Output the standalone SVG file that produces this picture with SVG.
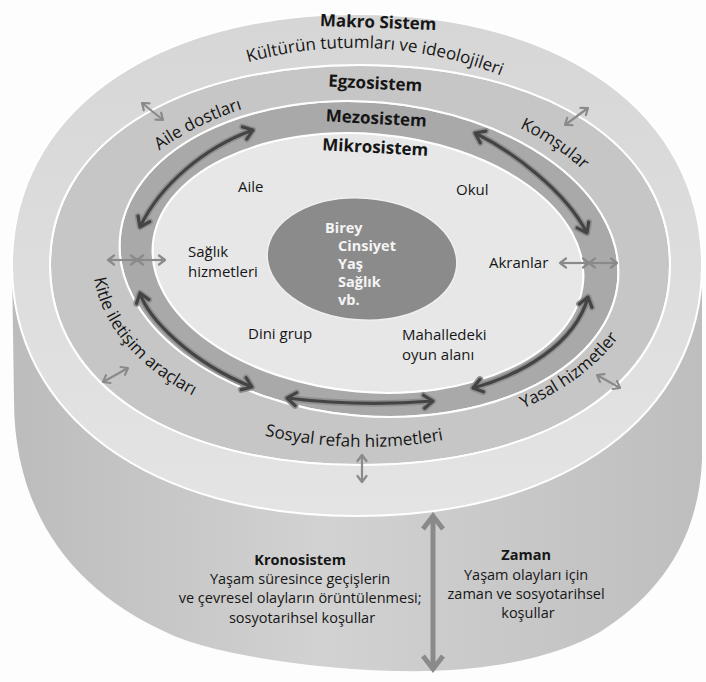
<svg xmlns="http://www.w3.org/2000/svg" width="706" height="682" viewBox="0 0 706 682">
  <style>
    .t{font-family:"Open Sans","Noto Sans","DejaVu Sans",sans-serif;fill:#161616}
    .b{font-weight:bold}
    .lab{font-size:15px}
    .arc{font-size:17px}
    .head{font-size:17px;font-weight:bold}
    .krono{font-size:14.5px}
    .core{font-size:14.5px;font-weight:bold;fill:#f4f4f4}
    .sep{stroke:#ffffff;stroke-width:2;fill-rule:evenodd}
    .halo{fill:none;stroke:#8e8e8e;stroke-width:6.5;marker-start:url(#mh);marker-end:url(#mh)}
    .bold{fill:none;stroke:#444444;stroke-width:3.2;marker-start:url(#mc);marker-end:url(#mc)}
    .thin{fill:none;stroke:#8a8a8a;stroke-width:2.2;marker-start:url(#ms);marker-end:url(#ms)}
    .time{fill:none;stroke:#8a8a8a;stroke-width:5;marker-start:url(#mb);marker-end:url(#mb)}
  </style>
  <defs>
    <linearGradient id="gBody" x1="0" y1="0" x2="1" y2="0">
      <stop offset="0" stop-color="#bcbcbc"/>
      <stop offset="0.45" stop-color="#d2d2d2"/>
      <stop offset="1" stop-color="#bebebe"/>
    </linearGradient>
    <linearGradient id="gTop" x1="0" y1="0" x2="0" y2="1">
      <stop offset="0" stop-color="#d6d6d6"/>
      <stop offset="1" stop-color="#e4e4e4"/>
    </linearGradient>
    <marker id="mh" viewBox="0 0 18 16" refX="13" refY="8" markerWidth="18" markerHeight="16" markerUnits="userSpaceOnUse" orient="auto-start-reverse" overflow="visible">
      <path d="M4,1.5 L13,8 L4,14.5" fill="none" stroke="#8e8e8e" stroke-width="6.5" stroke-linecap="round" stroke-linejoin="round"/>
    </marker>
    <marker id="mc" viewBox="0 0 18 16" refX="13" refY="8" markerWidth="18" markerHeight="16" markerUnits="userSpaceOnUse" orient="auto-start-reverse" overflow="visible">
      <path d="M4,1.5 L13,8 L4,14.5" fill="none" stroke="#444444" stroke-width="3.2" stroke-linecap="round" stroke-linejoin="round"/>
    </marker>
    <marker id="ms" viewBox="0 0 12 12" refX="10" refY="6" markerWidth="12" markerHeight="12" markerUnits="userSpaceOnUse" orient="auto-start-reverse" overflow="visible">
      <path d="M4,1.5 L10,6 L4,10.5" fill="none" stroke="#8a8a8a" stroke-width="2.2" stroke-linecap="round" stroke-linejoin="round"/>
    </marker>
    <marker id="mb" viewBox="0 0 26 26" refX="22" refY="13" markerWidth="26" markerHeight="26" markerUnits="userSpaceOnUse" orient="auto-start-reverse" overflow="visible">
      <path d="M9,3 L22,13 L9,23" fill="none" stroke="#8a8a8a" stroke-width="5" stroke-linejoin="miter"/>
    </marker>
    <!-- baselines for the curved ring labels -->
    <path id="tpKultur" d="M86.4,178.2 A300 220 3 0 1 649.4,207.7"/>
    <path id="tpAile" d="M117.9,192.2 A270.5 171.6 0 0 1 299.6,95.5"/>
    <path id="tpKomsu" d="M450.2,105 A261.6 166 0 0 1 621.8,230.3"/>
    <path id="tpKitle" d="M96.3,235 A272 172.6 0 0 0 233.1,413"/>
    <path id="tpYasal" d="M451.5,430.9 A280 177.6 0 0 0 644.8,268.2"/>
    <path id="tpSosyal" d="M179.2,403.7 A289 185 0 0 0 530.8,413.5"/>
    <!-- mesosystem interaction arcs -->
    <path id="m1" d="M253,130 C205,147 160,185 140,227"/>
    <path id="m2" d="M475,133 C510,150 565,190 587,233"/>
    <path id="m3" d="M140,293 C148,318 190,362 252,387"/>
    <path id="m4" d="M287,398 Q360,407 433,401"/>
    <path id="m5" d="M473,388 C520,375 575,345 588,297"/>
  </defs>

  <rect width="706" height="682" fill="#fdfdfd"/>

  <!-- cylinder body: chronosystem -->
  <g id="kronosistem">
    <path d="M12,265 L14,400 C14,510 70,590 170,634 C215,655 330,673 430,671 C500,669 560,655 600,632 C650,600 698,550 702,460 L702,265 Z" fill="url(#gBody)"/>
    <text class="t krono" text-anchor="middle">
      <tspan class="b" x="302" y="565">Kronosistem</tspan>
      <tspan x="302" y="584">Yaşam süresince geçişlerin</tspan>
      <tspan x="302" y="603">ve çevresel olayların örüntülenmesi;</tspan>
      <tspan x="302" y="623">sosyotarihsel koşullar</tspan>
    </text>
  </g>

  <g id="zaman">
    <text class="t krono" text-anchor="middle">
      <tspan class="b" x="528" y="560">Zaman</tspan>
      <tspan x="528" y="580">Yaşam olayları için</tspan>
      <tspan x="528" y="599">zaman ve sosyotarihsel</tspan>
      <tspan x="528" y="618">koşullar</tspan>
    </text>
  </g>

  <!-- microsystem -->
  <g id="mikrosistem">
    <path class="sep" fill="#e7e7e7" d="M152.82,244.17 A216 129 5 1 1 583.18,281.83 A216 129 5 1 1 152.82,244.17 Z"/>
    <text class="t head" x="375" y="153" text-anchor="middle" transform="rotate(3 375 153)">Mikrosistem</text>
    <text class="t lab" x="238" y="192">Aile</text>
    <text class="t lab" x="456" y="195">Okul</text>
    <text class="t lab"><tspan x="188" y="257">Sağlık</tspan><tspan x="188" y="277">hizmetleri</tspan></text>
    <text class="t lab" x="489" y="268">Akranlar</text>
    <text class="t lab" x="248" y="339">Dini grup</text>
    <text class="t lab"><tspan x="402" y="340">Mahalledeki</tspan><tspan x="402" y="360">oyun alanı</tspan></text>
  </g>

  <!-- the individual -->
  <g id="birey">
    <ellipse cx="0" cy="0" rx="95" ry="61" fill="#8b8b8b" stroke="#f0f0f0" stroke-width="1.5" transform="translate(362 259) rotate(4)"/>
    <text class="t core">
      <tspan x="325" y="233">Birey</tspan>
      <tspan x="338" y="251">Cinsiyet</tspan>
      <tspan x="338" y="269">Yaş</tspan>
      <tspan x="338" y="287">Sağlık</tspan>
      <tspan x="338" y="305">vb.</tspan>
    </text>
  </g>

  <!-- mesosystem ring -->
  <g id="mezosistem">
    <path class="sep" fill="#a9a9a9" d="M119.95,237.21 A250 157 5 1 1 618.05,280.79 A250 157 5 1 1 119.95,237.21 Z M152.82,244.17 A216 129 5 1 1 583.18,281.83 A216 129 5 1 1 152.82,244.17 Z"/>
    <text class="t head" x="376" y="124" text-anchor="middle" transform="rotate(3 376 124)">Mezosistem</text>
  </g>

  <!-- exosystem ring -->
  <g id="egzosistem">
    <path class="sep" fill="#c6c6c6" d="M50,265 C50,145 174,65 360,65 C546,65 670,145 670,265 C670,385 546,465 360,465 C174,465 50,385 50,265 Z M119.95,237.21 A250 157 5 1 1 618.05,280.79 A250 157 5 1 1 119.95,237.21 Z"/>
    <text class="t head" x="375" y="89" text-anchor="middle" transform="rotate(3 375 89)">Egzosistem</text>
    <text class="t arc"><textPath href="#tpAile" startOffset="50%" text-anchor="middle">Aile dostları</textPath></text>
    <text class="t arc"><textPath href="#tpKomsu" startOffset="50%" text-anchor="middle">Komşular</textPath></text>
    <text class="t arc"><textPath href="#tpKitle" startOffset="50%" text-anchor="middle">Kitle iletişim araçları</textPath></text>
    <text class="t arc"><textPath href="#tpYasal" startOffset="50%" text-anchor="middle">Yasal hizmetler</textPath></text>
    <text class="t arc"><textPath href="#tpSosyal" startOffset="50%" text-anchor="middle">Sosyal refah hizmetleri</textPath></text>
  </g>

  <!-- top face: macrosystem -->
  <g id="makrosistem">
    <path class="sep" fill="url(#gTop)" d="M12,265 C12,114.4 150,14 357,14 C564,14 702,114.4 702,265 C702,415.6 564,516 357,516 C150,516 12,415.6 12,265 Z M50,265 C50,145 174,65 360,65 C546,65 670,145 670,265 C670,385 546,465 360,465 C174,465 50,385 50,265 Z"/>
    <text class="t head" x="378" y="28" text-anchor="middle" transform="rotate(2 378 28)">Makro Sistem</text>
    <text class="t arc"><textPath href="#tpKultur" startOffset="50%" text-anchor="middle">Kültürün tutumları ve ideolojileri</textPath></text>
  </g>

  <!-- interaction arrows -->
  <g id="connectors">
    <use href="#m1" class="halo"/>
    <use href="#m2" class="halo"/>
    <use href="#m3" class="halo"/>
    <use href="#m4" class="halo"/>
    <use href="#m5" class="halo"/>
    <use href="#m1" class="bold"/>
    <use href="#m2" class="bold"/>
    <use href="#m3" class="bold"/>
    <use href="#m4" class="bold"/>
    <use href="#m5" class="bold"/>

    <path class="thin" d="M142,103 L163,120"/>
    <path class="thin" d="M565,125 L588,108"/>
    <path class="thin" d="M103,382 L128,368"/>
    <path class="thin" d="M597,375 L620,388"/>
    <path class="thin" d="M362,455 L362,482"/>
    <path class="thin" d="M108,260 L137,260"/>
    <path class="thin" d="M137,260 L165,260"/>
    <path class="thin" d="M560,263 L589,263"/>
    <path class="thin" d="M589,263 L617,263"/>

    <path class="time" d="M433,516 L433,669"/>
  </g>
</svg>
